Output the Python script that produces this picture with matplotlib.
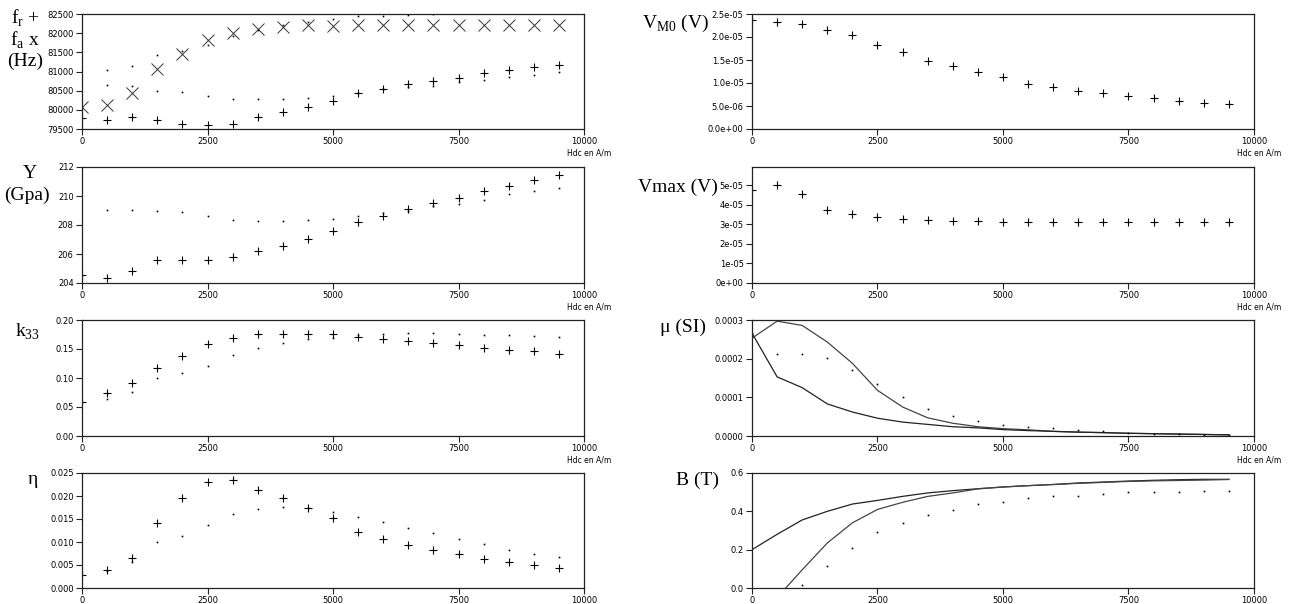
import numpy as np
import matplotlib
matplotlib.use('Agg')
import matplotlib.pyplot as plt
from matplotlib.ticker import FixedLocator, FormatStrFormatter

nan = np.nan

# Hdc en A/m
hdc = [0, 500, 1000, 1500, 2000, 2500, 3000, 3500, 4000, 4500,
       5000, 5500, 6000, 6500, 7000, 7500, 8000, 8500, 9000, 9500]

# fr / fa (Hz)
fr_meas = [79790, 79745, 79815, 79745, 79630, 79595, 79630, 79815, 79935, 80085,
           80240, 80430, 80545, 80665, 80750, 80840, 80960, 81030, 81110, 81180]
fa_meas = [80075, 80125, 80440, 81075, 81465, 81830, 82005, 82115, 82150, 82205,
           82195, 82210, 82210, 82210, 82210, 82210, 82210, 82210, 82210, 82215]
fa_model = [nan, 81030, 81135, 81430, 81545, 81690, 81915, 82090, 82205, 82290,
            82370, 82440, 82455, 82485, 82490, 82520, 82530, 82540, 82550, 82560]
fr_model = [nan, 80650, 80630, 80500, 80455, 80350, 80290, 80275, 80275, 80315,
            80365, 80440, 80550, 80600, 80630, 80730, 80790, 80865, 80920, 80990]

# Young modulus (GPa)
y_meas = [204.53, 204.32, 204.85, 205.56, 205.56, 205.56, 205.77, 206.23, 206.57, 207.01,
          207.59, 208.21, 208.60, 209.10, 209.52, 209.84, 210.32, 210.71, 211.13, 211.47]
y_model = [nan, 209.01, 209.01, 208.97, 208.87, 208.60, 208.32, 208.25, 208.25, 208.32,
           208.41, 208.60, 208.83, 209.00, 209.29, 209.45, 209.75, 210.16, 210.32, 210.55]

# k33
k_meas = [0.059, 0.0736, 0.0908, 0.118, 0.1385, 0.159, 0.1695, 0.1753, 0.1759, 0.1759,
          0.176, 0.170, 0.168, 0.164, 0.161, 0.157, 0.152, 0.149, 0.146, 0.141]
k_model = [nan, 0.063, 0.0753, 0.100, 0.1086, 0.121, 0.139, 0.151, 0.160, 0.167,
           0.169, 0.174, 0.176, 0.178, 0.177, 0.176, 0.175, 0.175, 0.172, 0.170]

# eta
eta_meas = [0.00275, 0.00384, 0.00645, 0.0142, 0.01957, 0.02304, 0.02355, 0.02123, 0.01957, 0.01732,
            0.01514, 0.01217, 0.01065, 0.00935, 0.00826, 0.00732, 0.00623, 0.00558, 0.00493, 0.00428]
eta_model = [nan, 0.0037, 0.00565, 0.00993, 0.01138, 0.01377, 0.01616, 0.01725, 0.01754, 0.0175,
             0.0166, 0.01543, 0.01435, 0.01304, 0.01196, 0.01065, 0.0095, 0.00826, 0.00746, 0.00674]

# VM0 (V)
vm0 = [2.377e-5, 2.333e-5, 2.283e-5, 2.152e-5, 2.043e-5, 1.819e-5, 1.674e-5, 1.471e-5, 1.362e-5, 1.246e-5,
       1.130e-5, 0.978e-5, 0.906e-5, 0.833e-5, 0.775e-5, 0.717e-5, 0.667e-5, 0.616e-5, 0.572e-5, 0.536e-5]

# Vmax (V)
vmax = [4.74e-5, 5.0e-5, 4.57e-5, 3.72e-5, 3.53e-5, 3.38e-5, 3.28e-5, 3.22e-5, 3.19e-5, 3.16e-5,
        3.14e-5, 3.10e-5, 3.10e-5, 3.10e-5, 3.10e-5, 3.10e-5, 3.10e-5, 3.10e-5, 3.10e-5, 3.10e-5]

# mu (SI)
mu_a = [2.53e-4, 2.97e-4, 2.86e-4, 2.43e-4, 1.88e-4, 1.18e-4, 0.75e-4, 0.47e-4, 0.33e-4, 0.24e-4,
        0.19e-4, 0.16e-4, 0.12e-4, 0.10e-4, 0.087e-4, 0.07e-4, 0.06e-4, 0.05e-4, 0.04e-4, 0.03e-4]
mu_b = [2.66e-4, 1.53e-4, 1.25e-4, 0.83e-4, 0.62e-4, 0.46e-4, 0.36e-4, 0.30e-4, 0.24e-4, 0.21e-4,
        0.165e-4, 0.14e-4, 0.12e-4, 0.10e-4, 0.087e-4, 0.07e-4, 0.06e-4, 0.05e-4, 0.04e-4, 0.03e-4]
mu_dots = [2.66e-4, 2.11e-4, 2.11e-4, 2.02e-4, 1.70e-4, 1.34e-4, 1.00e-4, 0.69e-4, 0.53e-4, 0.38e-4,
           0.29e-4, 0.24e-4, 0.21e-4, 0.16e-4, 0.12e-4, 0.09e-4, 0.06e-4, 0.05e-4, 0.035e-4, 0.03e-4]

# B (T)
b_a = [0.20, 0.28, 0.355, 0.40, 0.438, 0.457, 0.478, 0.496, 0.508, 0.518,
       0.527, 0.534, 0.540, 0.548, 0.553, 0.558, 0.562, 0.565, 0.567, 0.567]
b_b = [-0.25, -0.05, 0.095, 0.235, 0.34, 0.41, 0.447, 0.478, 0.496, 0.517,
       0.527, 0.534, 0.540, 0.546, 0.551, 0.556, 0.559, 0.561, 0.563, 0.566]
b_dots = [nan, -0.08, 0.017, 0.117, 0.21, 0.29, 0.339, 0.379, 0.409, 0.437,
          0.45, 0.468, 0.478, 0.478, 0.49, 0.499, 0.499, 0.499, 0.508, 0.508]

W, H = 1292, 604
fig = plt.figure(figsize=(W / 100, H / 100), dpi=100)

cols = [82, 752]
col_w = 502
rows = [(14, 129), (167, 283), (320, 436), (473, 588)]


def make_ax(col, row, ylim, yticks, fmt, hdc_label=True):
    top, bot = rows[row]
    ax = fig.add_axes([cols[col] / W, 1 - bot / H, col_w / W, (bot - top) / H])
    ax.set_xlim(0, 10000)
    ax.set_ylim(*ylim)
    ax.xaxis.set_major_locator(FixedLocator([0, 2500, 5000, 7500, 10000]))
    ax.yaxis.set_major_locator(FixedLocator(yticks))
    ax.yaxis.set_major_formatter(FormatStrFormatter(fmt))
    ax.tick_params(labelsize=6, length=4, width=0.8, color='#222222', pad=2)
    for s in ax.spines.values():
        s.set_linewidth(0.9)
        s.set_color('#222222')
    if hdc_label:
        ax.text(0.966, -0.17, 'Hdc en A/m', transform=ax.transAxes, fontsize=5.5,
                ha='left', va='top')
    return ax


def plus(ax, y):
    ax.plot(hdc, y, ls='none', marker='+', ms=6, mew=0.8, color='black')


def dots(ax, y):
    ax.plot(hdc, y, ls='none', marker='s', ms=1.2, mew=0, color='black')


def ylabel(x, y, s, **kw):
    fig.text(x / W, 1 - y / H, s, fontsize=14, family='Liberation Serif',
             ha='center', va='center', **kw)


# fr / fa
ax = make_ax(0, 0, (79500, 82500), range(79500, 82501, 500), '%d')
plus(ax, fr_meas)
ax.plot(hdc, fa_meas, ls='none', marker='x', ms=8, mew=0.7, color='#333333')
dots(ax, fa_model)
dots(ax, fr_model)
ylabel(25, 18, r'f$_\mathregular{r}$ +')
ylabel(25, 40, r'f$_\mathregular{a}$ x')
ylabel(25, 61, '(Hz)')

# Y
ax = make_ax(0, 1, (204, 212), range(204, 213, 2), '%d')
plus(ax, y_meas)
dots(ax, y_model)
ylabel(30, 173, 'Y')
ylabel(27, 195, '(Gpa)')

# k33
ax = make_ax(0, 2, (0, 0.2), np.arange(0, 0.201, 0.05), '%.2f')
plus(ax, k_meas)
dots(ax, k_model)
ylabel(28, 332, r'k$_\mathregular{33}$')

# eta
ax = make_ax(0, 3, (0, 0.025), np.arange(0, 0.0251, 0.005), '%.3f', hdc_label=False)
plus(ax, eta_meas)
dots(ax, eta_model)
ylabel(33, 479, 'η')

# VM0
ax = make_ax(1, 0, (0, 2.5e-5), np.arange(0, 2.51e-5, 0.5e-5), '%.1e')
plus(ax, vm0)
ylabel(675, 23, r'V$_\mathregular{M0}$ (V)')

# Vmax
ax = make_ax(1, 1, (0, 5.93e-5), np.arange(0, 5.1e-5, 1e-5), '%.0e')
plus(ax, vmax)
ylabel(678, 187, 'Vmax (V)')

# mu
ax = make_ax(1, 2, (0, 0.0003), np.arange(0, 0.00031, 0.0001), '%.4f')
ax.plot(hdc, mu_a, color='#444444', lw=0.9)
ax.plot(hdc, mu_b, color='#222222', lw=0.9)
dots(ax, mu_dots)
ylabel(683, 327, 'μ (SI)')

# B
ax = make_ax(1, 3, (0, 0.6), np.arange(0, 0.61, 0.2), '%.1f', hdc_label=False)
ax.plot(hdc, b_a, color='#222222', lw=0.9)
ax.plot(hdc, b_b, color='#444444', lw=0.9)
dots(ax, b_dots)
ylabel(697, 480, 'B (T)')

fig.savefig('out.png', dpi=100)
